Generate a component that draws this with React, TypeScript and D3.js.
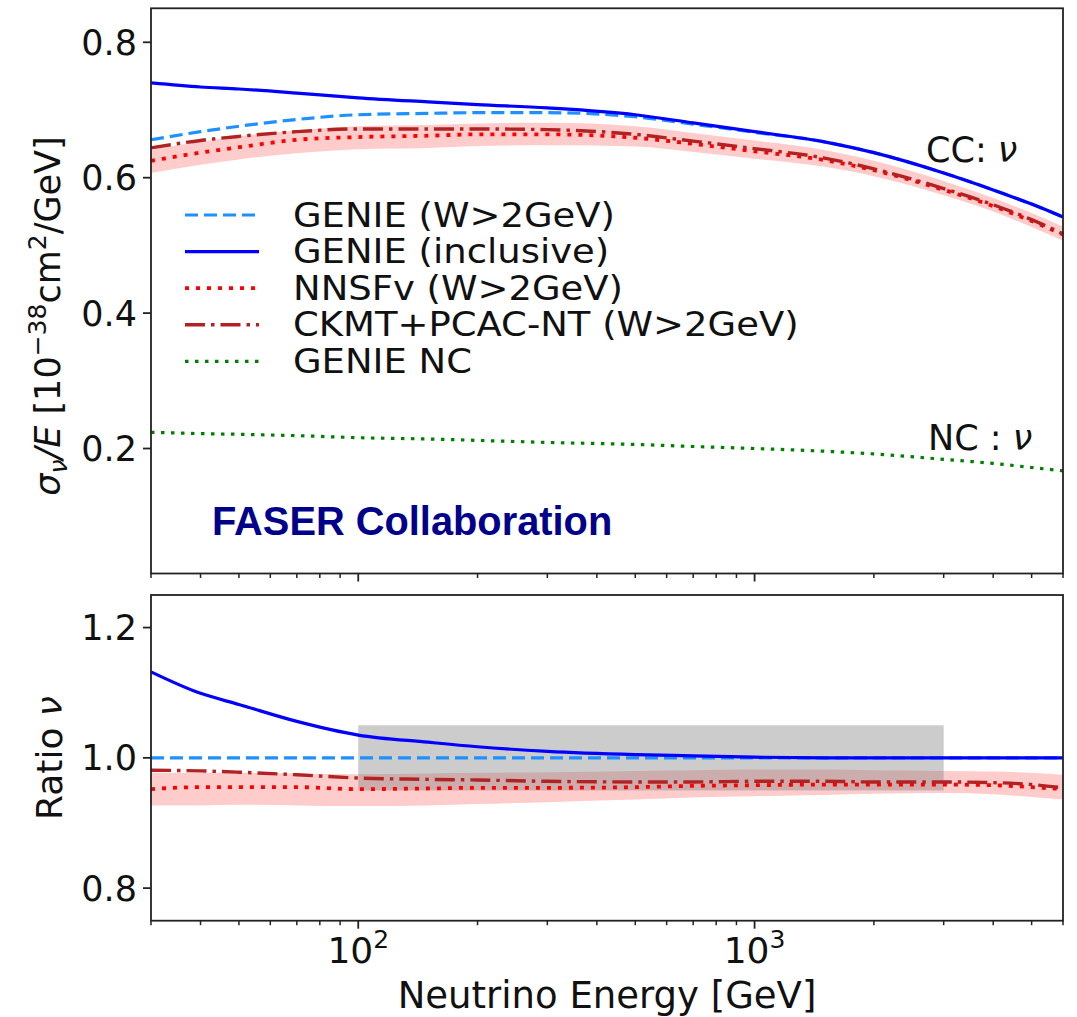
import React from "react";
import * as d3 from "d3";

const energy = [30, 40, 50, 70, 100, 150, 200, 300, 500, 700, 1000, 1500, 2000, 3000, 4000, 5000, 6000];

// top panel: sigma/E [1e-38 cm^2/GeV]
const genieW2 = [0.656, 0.668, 0.676, 0.686, 0.693, 0.695, 0.696, 0.696, 0.69, 0.679, 0.667, 0.653, 0.637, 0.607, 0.582, 0.561, 0.542];
const genieIncl = [0.74, 0.734, 0.731, 0.725, 0.718, 0.712, 0.708, 0.703, 0.693, 0.681, 0.668, 0.653, 0.637, 0.607, 0.582, 0.561, 0.542];
const nnsf = [0.625, 0.637, 0.645, 0.656, 0.66, 0.662, 0.664, 0.664, 0.659, 0.65, 0.639, 0.626, 0.611, 0.582, 0.558, 0.536, 0.516];
const nnsfLo = [0.607, 0.619, 0.627, 0.636, 0.642, 0.644, 0.647, 0.648, 0.646, 0.638, 0.628, 0.616, 0.602, 0.574, 0.55, 0.527, 0.507];
const nnsfHi = [0.641, 0.653, 0.661, 0.67, 0.676, 0.678, 0.68, 0.681, 0.676, 0.666, 0.655, 0.641, 0.625, 0.595, 0.57, 0.548, 0.528];
const ckmt = [0.644, 0.655, 0.661, 0.668, 0.672, 0.672, 0.672, 0.671, 0.664, 0.654, 0.643, 0.629, 0.613, 0.584, 0.56, 0.538, 0.517];
const genieNC = [0.224, 0.222, 0.221, 0.219, 0.216, 0.214, 0.212, 0.209, 0.206, 0.203, 0.2, 0.196, 0.192, 0.184, 0.178, 0.172, 0.167];

// bottom panel: ratio to GENIE (W>2GeV)
const ratioW2 = [1, 1, 1, 1, 1, 1, 1, 1, 1, 1, 1, 1, 1, 1, 1, 1, 1];
const ratioIncl = [1.132, 1.099, 1.082, 1.056, 1.035, 1.024, 1.017, 1.01, 1.005, 1.003, 1.001, 1, 1, 1, 1, 1, 1];
const ratioNnsf = [0.952, 0.955, 0.955, 0.955, 0.952, 0.953, 0.954, 0.954, 0.955, 0.957, 0.958, 0.959, 0.959, 0.959, 0.958, 0.955, 0.952];
const ratioNnsfLo = [0.927, 0.927, 0.928, 0.927, 0.926, 0.927, 0.929, 0.932, 0.936, 0.939, 0.941, 0.943, 0.945, 0.946, 0.944, 0.94, 0.936];
const ratioNnsfHi = [0.977, 0.977, 0.977, 0.976, 0.975, 0.976, 0.977, 0.978, 0.98, 0.981, 0.982, 0.982, 0.981, 0.98, 0.979, 0.977, 0.974];
const ratioCkmt = [0.981, 0.98, 0.978, 0.974, 0.969, 0.967, 0.966, 0.964, 0.963, 0.963, 0.964, 0.964, 0.963, 0.963, 0.962, 0.959, 0.954];

// grey uncertainty box in the ratio panel
const boxE = [100, 3000];
const boxR = [0.95, 1.05];

const topTicks = [0.2, 0.4, 0.6, 0.8];
const botTicks = [0.8, 1.0, 1.2];
const xMajor = [100, 1000];
const xMajorExp = ["2", "3"];

const legendLabels = ["GENIE (W>2GeV)", "GENIE (inclusive)", "NNSFv (W>2GeV)", "CKMT+PCAC-NT (W>2GeV)", "GENIE NC"];

const FONT = "DejaVu Sans, sans-serif";

const styles = {
  w2: { stroke: "#1E90FF", dash: "13 6", width: 3.2 },
  incl: { stroke: "#0000FF", dash: undefined, width: 3.2 },
  nnsf: { stroke: "#FF0000", dash: "4 7", width: 3.8 },
  ckmt: { stroke: "#B22222", dash: "20 6 3.5 6", width: 3.4 },
  nc: { stroke: "#008000", dash: "3.5 6.5", width: 3.2 },
};

export default function App() {
  const left = 151;
  const right = 1063;
  const top1 = 8.3;
  const bot1 = 573.5;
  const top2 = 595;
  const bot2 = 920.7;

  const x = d3.scaleLog().domain([30, 6000]).range([left, right]);
  const yTop = d3.scaleLinear().domain([0.0154, 0.8502]).range([bot1, top1]);
  const yBot = d3.scaleLinear().domain([0.75, 1.25]).range([bot2, top2]);

  const lineTop = (vals: number[]) =>
    d3.line<number>().x((_, i) => x(energy[i])).y((v) => yTop(v)).curve(d3.curveMonotoneX)(vals) || "";
  const lineBot = (vals: number[]) =>
    d3.line<number>().x((_, i) => x(energy[i])).y((v) => yBot(v)).curve(d3.curveMonotoneX)(vals) || "";
  const areaTop =
    d3.area<number>().x((_, i) => x(energy[i])).y0((_, i) => yTop(nnsfLo[i])).y1((_, i) => yTop(nnsfHi[i])).curve(d3.curveMonotoneX)(energy) || "";
  const areaBot =
    d3.area<number>().x((_, i) => x(energy[i])).y0((_, i) => yBot(ratioNnsfLo[i])).y1((_, i) => yBot(ratioNnsfHi[i])).curve(d3.curveMonotoneX)(energy) || "";

  const minor: number[] = [];
  [10, 100, 1000].forEach((dec) => {
    for (let k = 2; k <= 9; k++) {
      const v = dec * k;
      if (v >= 30 && v <= 6000 && v !== 100 && v !== 1000) minor.push(v);
    }
  });

  const path = (d: string, s: { stroke: string; dash?: string; width: number }, key: string) => (
    <path key={key} d={d} fill="none" stroke={s.stroke} strokeWidth={s.width} strokeDasharray={s.dash} />
  );

  const xTicks = (yb: number, labels: boolean) => (
    <g>
      {minor.map((v) => (
        <line key={"m" + v} x1={x(v)} x2={x(v)} y1={yb} y2={yb + 4.5} stroke="#222" strokeWidth={1.5} />
      ))}
      {xMajor.map((v, i) => (
        <g key={"M" + v}>
          <line x1={x(v)} x2={x(v)} y1={yb} y2={yb + 8} stroke="#222" strokeWidth={1.8} />
          {labels && (
            <text x={x(v)} y={963} textAnchor="middle" fontSize={36} fontFamily={FONT} fill="#111">
              10
              <tspan fontSize={25} dy={-15}>{xMajorExp[i]}</tspan>
            </text>
          )}
        </g>
      ))}
    </g>
  );

  const legendStyles = [styles.w2, styles.incl, styles.nnsf, styles.ckmt, styles.nc];

  return (
    <svg width={1077} height={1017} style={{ position: "absolute", left: 0, top: 0, background: "#fff" }}>
      <rect x={0} y={0} width={1077} height={1017} fill="#fff" />

      {/* top panel */}
      <path d={areaTop} fill="#FF0000" fillOpacity={0.2} stroke="none" />
      {path(lineTop(genieW2), styles.w2, "t1")}
      {path(lineTop(genieIncl), styles.incl, "t2")}
      {path(lineTop(nnsf), styles.nnsf, "t3")}
      {path(lineTop(ckmt), styles.ckmt, "t4")}
      {path(lineTop(genieNC), styles.nc, "t5")}

      {/* legend */}
      {legendLabels.map((lab, i) => {
        const cy = 215 + i * 36.6;
        const s = legendStyles[i];
        return (
          <g key={lab}>
            <line x1={185} x2={259} y1={cy} y2={cy} stroke={s.stroke} strokeWidth={s.width} strokeDasharray={s.dash} />
            <text transform={`translate(293,${cy + 11.5}) scale(1.12,1)`} fontSize={33} fontFamily={FONT} fill="#111">
              {lab}
            </text>
          </g>
        );
      })}

      <text x={926} y={162} fontSize={35} fontFamily={FONT} fill="#111">
        CC: <tspan fontStyle="italic">ν</tspan>
      </text>
      <text x={928} y={450} fontSize={35} fontFamily={FONT} fill="#111">
        NC : <tspan fontStyle="italic">ν</tspan>
      </text>
      <text x={212} y={535} fontSize={39.8} fontWeight="bold" fontFamily="Liberation Sans, Arial, sans-serif" fill="#00008B">
        FASER Collaboration
      </text>

      <rect x={left} y={top1} width={right - left} height={bot1 - top1} fill="none" stroke="#222" strokeWidth={1.8} />
      {topTicks.map((t) => (
        <g key={"yt" + t}>
          <line x1={left - 8} x2={left} y1={yTop(t)} y2={yTop(t)} stroke="#222" strokeWidth={1.8} />
          <text x={137} y={yTop(t)} dy="0.36em" textAnchor="end" fontSize={35} fontFamily={FONT} fill="#111">
            {t.toFixed(1)}
          </text>
        </g>
      ))}
      {xTicks(bot1, false)}

      {/* bottom panel */}
      <path d={areaBot} fill="#FF0000" fillOpacity={0.2} stroke="none" />
      <rect
        x={x(boxE[0])}
        y={yBot(boxR[1])}
        width={x(boxE[1]) - x(boxE[0])}
        height={yBot(boxR[0]) - yBot(boxR[1])}
        fill="#808080"
        fillOpacity={0.4}
      />
      {path(lineBot(ratioW2), styles.w2, "b1")}
      {path(lineBot(ratioIncl), styles.incl, "b2")}
      {path(lineBot(ratioNnsf), styles.nnsf, "b3")}
      {path(lineBot(ratioCkmt), styles.ckmt, "b4")}

      <rect x={left} y={top2} width={right - left} height={bot2 - top2} fill="none" stroke="#222" strokeWidth={1.8} />
      {botTicks.map((t) => (
        <g key={"yb" + t}>
          <line x1={left - 8} x2={left} y1={yBot(t)} y2={yBot(t)} stroke="#222" strokeWidth={1.8} />
          <text x={137} y={yBot(t)} dy="0.36em" textAnchor="end" fontSize={35} fontFamily={FONT} fill="#111">
            {t.toFixed(1)}
          </text>
        </g>
      ))}
      {xTicks(bot2, true)}

      {/* axis labels */}
      <text x={607} y={1008} textAnchor="middle" fontSize={37} fontFamily={FONT} fill="#111">
        Neutrino Energy [GeV]
      </text>
      <text transform="translate(60,316) rotate(-90)" textAnchor="middle" fontSize={35} fontFamily={FONT} fill="#111">
        <tspan fontStyle="italic">σ</tspan>
        <tspan fontStyle="italic" fontSize={25} dy={7}>ν</tspan>
        <tspan dy={-7} fontStyle="italic">/E</tspan>
        <tspan> [10</tspan>
        <tspan fontSize={25} dy={-14}>−38</tspan>
        <tspan dy={14}>cm</tspan>
        <tspan fontSize={25} dy={-14}>2</tspan>
        <tspan dy={14}>/GeV]</tspan>
      </text>
      <text transform="translate(62,758) rotate(-90)" textAnchor="middle" fontSize={36} fontFamily={FONT} fill="#111">
        Ratio <tspan fontStyle="italic">ν</tspan>
      </text>
    </svg>
  );
}
